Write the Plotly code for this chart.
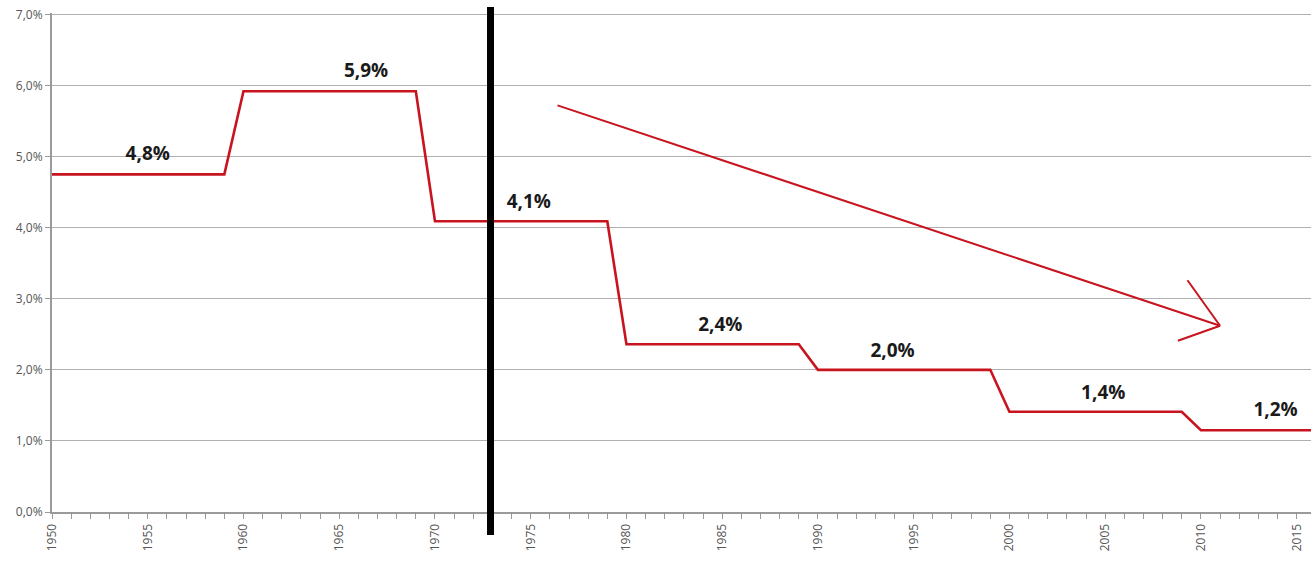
import plotly.graph_objects as go

# yearly rate (%)
years = list(range(1950, 2017))
rates = ([4.75] * 10 + [5.92] * 10 + [4.09] * 10 + [2.36] * 10
         + [2.00] * 10 + [1.41] * 10 + [1.15] * 7)

# decade labels
label_x = [1955, 1966.4, 1974.9, 1984.9, 1993.9, 2004.9, 2013.9]
label_y = [5.02, 6.19, 4.35, 2.62, 2.25, 1.66, 1.42]
label_text = ['4,8%', '5,9%', '4,1%', '2,4%', '2,0%', '1,4%', '1,2%']

break_year = 1972.9
arrow_start = (1976.4, 5.72)
arrow_end = (2011.0, 2.62)
arrow_barbs = [(2009.3, 3.26), (2008.8, 2.41)]

red = '#c8141e'

fig = go.Figure()
fig.add_trace(go.Scatter(
    x=years, y=rates, mode='lines',
    line=dict(color=red, width=2.6), showlegend=False, hoverinfo='skip'
))
fig.add_trace(go.Scatter(
    x=label_x, y=label_y, mode='text', text=label_text,
    textfont=dict(family='Open Sans', size=19, color='#1a1a1a', weight='bold'),
    showlegend=False, hoverinfo='skip'
))

shapes = [
    dict(type='line', xref='x', yref='paper', x0=break_year, x1=break_year,
         y0=-0.046, y1=1.012, line=dict(color='black', width=7)),
    dict(type='line', xref='x', yref='y', x0=arrow_start[0], y0=arrow_start[1],
         x1=arrow_end[0], y1=arrow_end[1], line=dict(color=red, width=2)),
]
for bx, by in arrow_barbs:
    shapes.append(dict(type='line', xref='x', yref='y', x0=bx, y0=by,
                       x1=arrow_end[0], y1=arrow_end[1], line=dict(color=red, width=2)))

fig.update_layout(
    width=1311, height=562,
    margin=dict(l=52, r=0, t=13, b=50),
    plot_bgcolor='white', paper_bgcolor='white',
    separators=',.',
    shapes=shapes,
    font=dict(family='Open Sans', size=12, color='#555555'),
)
fig.update_xaxes(
    range=[1950, 2015.75], tickmode='linear', tick0=1950, dtick=5,
    tickangle=-90, ticks='outside', ticklen=5, tickcolor='#9a9a9a',
    minor=dict(dtick=1, ticks='outside', ticklen=5, tickcolor='#9a9a9a'),
    showline=True, linecolor='#9a9a9a', linewidth=2, showgrid=False,
    tickfont=dict(size=12, color='#555555'), zeroline=False, automargin=False
)
fig.update_yaxes(
    range=[0, 7.02], tickmode='linear', tick0=0, dtick=1,
    tickformat='.1f', ticksuffix='%',
    ticks='outside', ticklen=5, tickcolor='#9a9a9a',
    showline=True, linecolor='#9a9a9a', linewidth=2,
    showgrid=True, gridcolor='#b0b0b0', gridwidth=1, zeroline=False,
    tickfont=dict(size=12, color='#555555'), automargin=False
)

# drop the default 8px body margin so the figure sits at the page corner
fig.write_html("out.html", config={'displayModeBar': False},
               post_script="document.body.style.margin='0';")
